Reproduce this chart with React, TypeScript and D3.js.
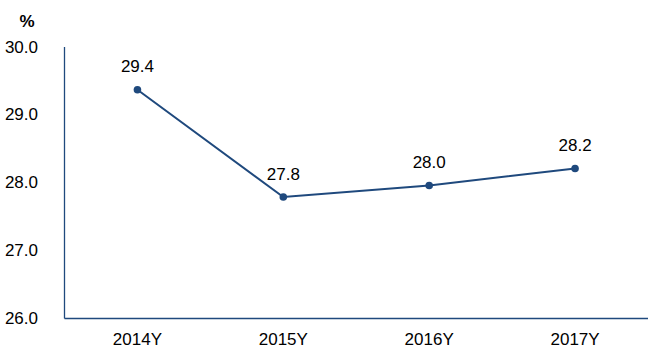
import React from "react";
import * as d3 from "d3";

const categories = ["2014Y", "2015Y", "2016Y", "2017Y"];
const values = [29.37, 27.79, 27.96, 28.21];
const valueLabels = ["29.4", "27.8", "28.0", "28.2"];
const yTicks = [26, 27, 28, 29, 30];

const W = 649;
const H = 354;
const left = 64.5;
const right = 648;
const top = 47;
const bottom = 318.5;
const color = "#1F497D";
const font = "'Liberation Sans', Arial, sans-serif";

export default function App() {
  const x = d3.scaleBand<string>().domain(categories).range([left, right]);
  const y = d3.scaleLinear().domain([26, 30]).range([bottom, top]);
  const cx = (c: string) => (x(c) ?? 0) + x.bandwidth() / 2;
  const line = d3
    .line<number>()
    .x((_, i) => cx(categories[i]))
    .y((d) => y(d));

  return (
    <svg
      width={W}
      height={H}
      style={{ position: "absolute", left: 0, top: 0 }}
      fontFamily={font}
    >
      <rect width={W} height={H} fill="#fff" />
      <text x={27} y={21} textAnchor="middle" dominantBaseline="central" fontSize={17} fontWeight="bold" fill="#000">
        %
      </text>
      {yTicks.map((t) => (
        <text key={t} x={38} y={y(t)} textAnchor="end" dominantBaseline="central" fontSize={17} fill="#000">
          {d3.format(".1f")(t)}
        </text>
      ))}
      <line x1={left} x2={left} y1={top} y2={bottom} stroke={color} strokeWidth={1.3} />
      <line x1={left} x2={right} y1={bottom} y2={bottom} stroke={color} strokeWidth={1.3} />
      {categories.map((c) => (
        <text key={c} x={cx(c)} y={339} textAnchor="middle" dominantBaseline="central" fontSize={17} fill="#000">
          {c}
        </text>
      ))}
      <path d={line(values) ?? ""} fill="none" stroke={color} strokeWidth={2} />
      {values.map((v, i) => (
        <g key={i}>
          <circle cx={cx(categories[i])} cy={y(v)} r={3.8} fill={color} />
          <text x={cx(categories[i])} y={y(v) - 23} textAnchor="middle" dominantBaseline="central" fontSize={17} fill="#000">
            {valueLabels[i]}
          </text>
        </g>
      ))}
    </svg>
  );
}
